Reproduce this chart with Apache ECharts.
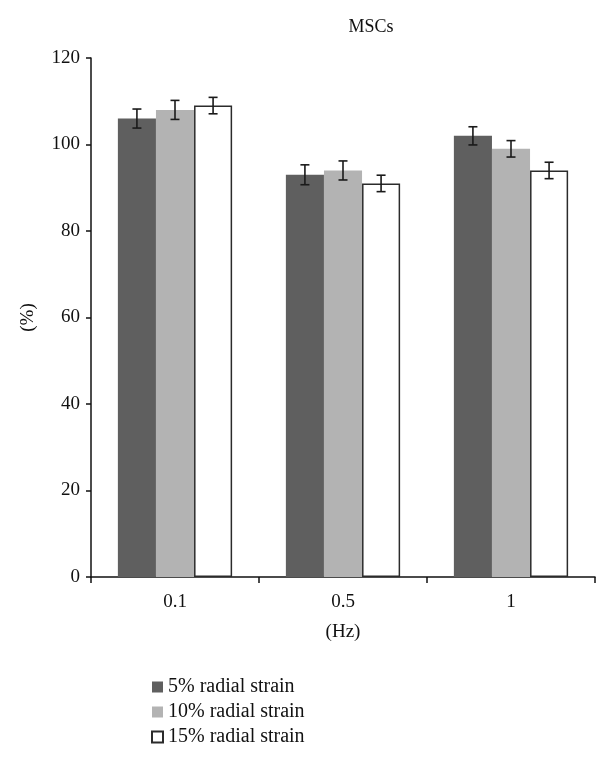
<!DOCTYPE html>
<html>
<head>
<meta charset="utf-8">
<script src="https://cdn.jsdelivr.net/npm/echarts@6/dist/echarts.min.js"></script>
<style>
  html, body { margin: 0; padding: 0; background: #fff; }
  #chart { width: 610px; height: 759px; }
</style>
</head>
<body>
<div id="chart"></div>
<script>
var categories = ['0.1', '0.5', '1']
var seriesNames = ['5% radial strain', '10% radial strain', '15% radial strain']
var strain5 = [106, 93, 102]
var strain10 = [108, 94, 99]
var strain15 = [109, 91, 94]
var err5 = [2.2, 2.3, 2.1]
var err10 = [2.2, 2.2, 1.9]
var err15 = [1.9, 1.9, 1.9]
var yTicks = [0, 20, 40, 60, 80, 100, 120]

var values = [strain5, strain10, strain15]
var errors = [err5, err10, err15]
var fills = ['#5f5f5f', '#b3b3b3', '#ffffff']
var catGap = 0.32

var font = '"Liberation Serif", "DejaVu Serif", serif'
var chart = echarts.init(document.getElementById('chart'))

function errorSeries (idx) {
  var data = categories.map(function (c, i) {
    return [i, values[idx][i] - errors[idx][i], values[idx][i] + errors[idx][i]]
  })
  return {
    type: 'custom',
    name: seriesNames[idx] + ' error',
    silent: true,
    z: 10,
    renderItem: function (params, api) {
      var band = api.size([1, 0])[0]
      var barW = band * (1 - catGap) / 3
      var x = api.coord([api.value(0), 0])[0] + (idx - 1) * barW
      var lo = api.coord([api.value(0), api.value(1)])[1]
      var hi = api.coord([api.value(0), api.value(2)])[1]
      var cap = 4.5
      var st = { stroke: '#1a1a1a', lineWidth: 1.6 }
      return {
        type: 'group',
        children: [
          { type: 'line', shape: { x1: x, y1: lo, x2: x, y2: hi }, style: st },
          { type: 'line', shape: { x1: x - cap, y1: lo, x2: x + cap, y2: lo }, style: st },
          { type: 'line', shape: { x1: x - cap, y1: hi, x2: x + cap, y2: hi }, style: st }
        ]
      }
    },
    data: data
  }
}

var barSeries = values.map(function (v, idx) {
  return {
    type: 'bar',
    name: seriesNames[idx],
    data: v,
    barGap: '0%',
    barCategoryGap: (catGap * 100) + '%',
    itemStyle: {
      color: fills[idx],
      borderColor: idx === 2 ? '#2b2b2b' : fills[idx],
      borderWidth: idx === 2 ? 1.5 : 0
    }
  }
})

var option = {
  animation: false,
  textStyle: { fontFamily: font },
  title: {
    text: 'MSCs',
    left: 366,
    top: 13,
    textAlign: 'center',
    textStyle: { fontFamily: font, fontSize: 18, fontWeight: 'normal', color: '#111' }
  },
  legend: {
    orient: 'vertical',
    left: 151,
    top: 677,
    padding: 0,
    height: 90,
    itemWidth: 11,
    itemHeight: 11,
    itemGap: 5,
    icon: 'rect',
    data: seriesNames,
    textStyle: { fontFamily: font, fontSize: 20, color: '#111' }
  },
  grid: {
    left: 91,
    right: 15,
    top: 58,
    bottom: 182,
    containLabel: false
  },
  xAxis: {
    type: 'category',
    data: categories,
    name: '(Hz)',
    nameLocation: 'middle',
    nameGap: 46,
    nameTextStyle: { fontFamily: font, fontSize: 19, color: '#111' },
    axisLine: { lineStyle: { color: '#111', width: 1.5 } },
    axisTick: { show: true, length: 6, lineStyle: { color: '#111', width: 1.5 } },
    axisLabel: { fontFamily: font, fontSize: 19, color: '#111', margin: 16 }
  },
  yAxis: {
    type: 'value',
    min: 0,
    max: 120,
    interval: 20,
    name: '(%)',
    nameLocation: 'middle',
    nameGap: 53,
    nameTextStyle: { fontFamily: font, fontSize: 19, color: '#111' },
    splitLine: { show: false },
    axisLine: { show: true, lineStyle: { color: '#111', width: 1.5 } },
    axisTick: { show: true, length: 5, lineStyle: { color: '#111', width: 1.5 } },
    axisLabel: {
      fontFamily: font,
      fontSize: 19,
      color: '#111',
      margin: 11,
      formatter: function (v) { return yTicks.indexOf(v) >= 0 ? String(v) : '' }
    }
  },
  series: barSeries.concat([errorSeries(0), errorSeries(1), errorSeries(2)])
}
chart.setOption(option)
</script>
</body>
</html>
